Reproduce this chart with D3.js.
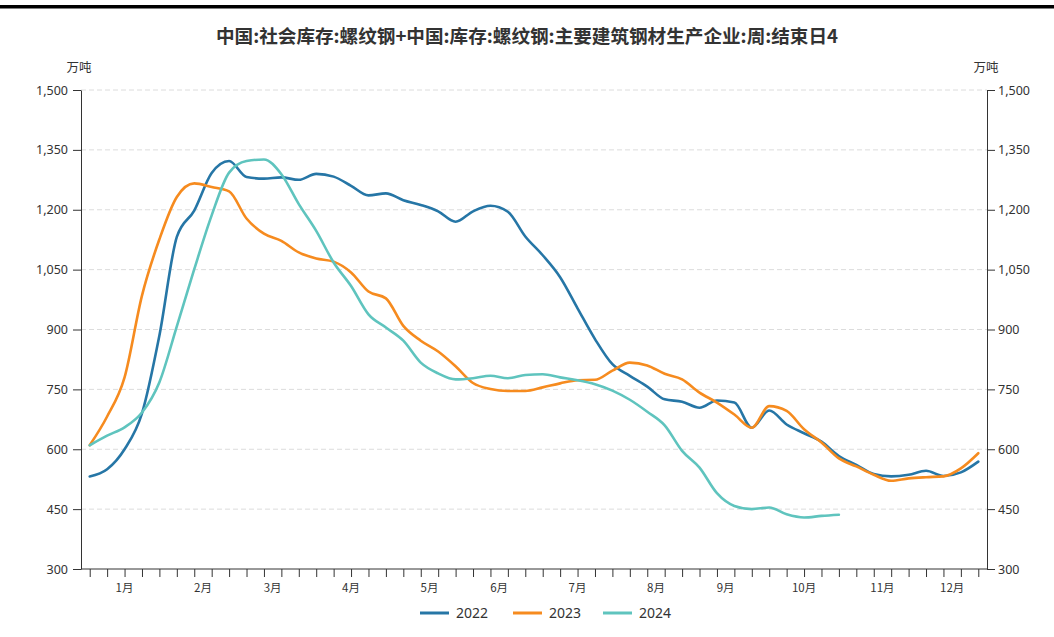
<!DOCTYPE html>
<html>
<head>
<meta charset="utf-8">
<script src="https://cdn.jsdelivr.net/npm/d3@7"></script>
<style>
  html, body { margin: 0; padding: 0; background: #fff; }
  svg { display: block; }
  text { font-family: "Noto Sans CJK SC", "Noto Sans", sans-serif; }
</style>
</head>
<body>
<svg id="chart" width="1054" height="637"></svg>
<script>
const title = "中国:社会库存:螺纹钢+中国:库存:螺纹钢:主要建筑钢材生产企业:周:结束日4";
const unitLabel = "万吨";
const weeks = d3.range(52);
const monthNames = ["1月","2月","3月","4月","5月","6月","7月","8月","9月","10月","11月","12月"];
const monthWeekCounts = [5,4,4,5,4,4,5,4,4,5,4,4];
const yTicks = [300, 450, 600, 750, 900, 1050, 1200, 1350, 1500];
const seriesNames = ["2022", "2023", "2024"];
const seriesColors = ["#2676a6", "#f68b1f", "#5fc4be"];

const v2022 = [532,550,600,690,885,1132,1198,1292,1322,1282,1278,1281,1275,1290,1283,1260,1236,1241,1224,1212,
  1196,1170,1196,1210,1195,1133,1086,1031,953,876,813,784,757,725,719,704,722,717,654,697,
  662,640,619,583,561,538,532,536,546,533,542,569];
const v2023 = [610,682,780,985,1126,1232,1266,1257,1246,1178,1140,1122,1093,1078,1070,1043,995,978,909,872,
  845,808,766,751,746,746,755,765,773,774,797,817,810,789,775,742,717,687,654,708,
  696,650,617,577,557,536,521,527,530,532,552,590];
const v2024 = [610,634,655,692,768,908,1051,1186,1293,1322,1326,1289,1214,1147,1068,1009,938,905,872,817,
  790,775,778,784,778,786,788,780,773,763,747,724,694,660,596,554,490,458,450,454,
  437,429,433,436];
const seriesValues = [v2022, v2023, v2024];

const svg = d3.select("#chart");
const W = 1054, H = 637;
const m = { left: 81, right: 987, top: 90, bottom: 569 };

// top black bar
svg.append("rect").attr("x", 0).attr("y", 5).attr("width", W).attr("height", 3.5).attr("fill", "#000");

// title
svg.append("text").attr("x", 527).attr("y", 43).attr("text-anchor", "middle")
  .attr("font-size", 18.6).attr("font-weight", "bold").attr("fill", "#333").text(title);

const x = d3.scalePoint().domain(weeks).range([m.left, m.right]).padding(0.5);
const y = d3.scaleLinear().domain([300, 1500]).range([m.bottom, m.top]);

// grid
svg.append("g").selectAll("line").data(yTicks.filter(d => d > 300)).join("line")
  .attr("x1", m.left).attr("x2", m.right)
  .attr("y1", d => y(d)).attr("y2", d => y(d))
  .attr("stroke", "#dcdcdc").attr("stroke-dasharray", "5,3").attr("stroke-width", 1);

// axes
const fmt = d3.format(",");
const gl = svg.append("g").attr("transform", `translate(${m.left},0)`)
  .call(d3.axisLeft(y).tickValues(yTicks).tickFormat(fmt).tickSize(8).tickSizeOuter(0).tickPadding(5));
const gr = svg.append("g").attr("transform", `translate(${m.right},0)`)
  .call(d3.axisRight(y).tickValues(yTicks).tickFormat(fmt).tickSize(8).tickSizeOuter(0).tickPadding(3));
const gb = svg.append("g").attr("transform", `translate(0,${m.bottom})`)
  .call(d3.axisBottom(x).tickValues(weeks).tickFormat("").tickSize(8).tickSizeOuter(0));
[gl, gr, gb].forEach(g => {
  g.selectAll("path, line").attr("stroke", "#333");
  g.selectAll("text").attr("font-size", 12.5).attr("fill", "#333")
    .style("font-family", '"Noto Sans", sans-serif');
});
gb.select("path.domain").attr("d", `M${m.left},0H${m.right}`);

// unit labels
svg.append("text").attr("x", 79).attr("y", 72).attr("text-anchor", "middle")
  .attr("font-size", 12.5).attr("fill", "#333").text(unitLabel);
svg.append("text").attr("x", 986).attr("y", 72).attr("text-anchor", "middle")
  .attr("font-size", 12.5).attr("fill", "#333").text(unitLabel);

// month labels
let start = 0;
const monthPos = monthWeekCounts.map(c => { const a = start, b = start + c - 1; start += c; return (x(a) + x(b)) / 2; });
svg.append("g").selectAll("text").data(monthNames).join("text")
  .attr("x", (d, i) => monthPos[i]).attr("y", 592).attr("text-anchor", "middle")
  .attr("font-size", 11.5).attr("fill", "#333").text(d => d);

// lines
const line = d3.line().x((d, i) => x(i)).y(d => y(d)).curve(d3.curveMonotoneX);
seriesValues.forEach((vals, k) => {
  svg.append("path").datum(vals).attr("d", line)
    .attr("fill", "none").attr("stroke", seriesColors[k]).attr("stroke-width", 2.6)
    .attr("stroke-linejoin", "round").attr("stroke-linecap", "round");
});

// legend
const legendX = [420, 513, 603];
seriesNames.forEach((n, k) => {
  const g = svg.append("g").attr("transform", `translate(${legendX[k]},613)`);
  g.append("line").attr("x1", 0).attr("x2", 29).attr("y1", 0).attr("y2", 0)
    .attr("stroke", seriesColors[k]).attr("stroke-width", 3);
  g.append("text").attr("x", 36).attr("y", 5).attr("font-size", 14).attr("fill", "#333")
    .style("font-family", '"Noto Sans", sans-serif').text(n);
});
</script>
</body>
</html>
